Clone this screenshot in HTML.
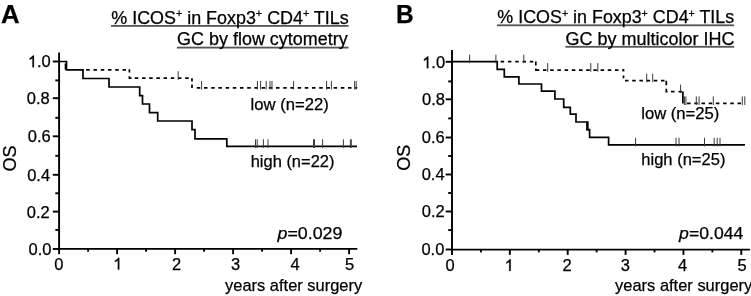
<!DOCTYPE html>
<html><head><meta charset="utf-8"><style>
html,body{margin:0;padding:0;background:#fff;}
svg{display:block;will-change:transform;}
text{font-family:"Liberation Sans", sans-serif;fill:#000;stroke:#000;stroke-width:0.25px;}
</style></head><body>
<svg width="751" height="296" viewBox="0 0 751 296">
<rect width="751" height="296" fill="#fff"/>
<path d="M59.1,52.6 V248.9 H357.3" fill="none" stroke="#000" stroke-width="1.9"/>
<line x1="52.80" y1="249.00" x2="59.1" y2="249.00" stroke="#000" stroke-width="1.9"/>
<line x1="55.30" y1="229.90" x2="59.1" y2="229.90" stroke="#000" stroke-width="1.9"/>
<line x1="52.80" y1="211.60" x2="59.1" y2="211.60" stroke="#000" stroke-width="1.9"/>
<line x1="55.30" y1="193.30" x2="59.1" y2="193.30" stroke="#000" stroke-width="1.9"/>
<line x1="52.80" y1="174.80" x2="59.1" y2="174.80" stroke="#000" stroke-width="1.9"/>
<line x1="55.30" y1="155.80" x2="59.1" y2="155.80" stroke="#000" stroke-width="1.9"/>
<line x1="52.80" y1="136.30" x2="59.1" y2="136.30" stroke="#000" stroke-width="1.9"/>
<line x1="55.30" y1="117.80" x2="59.1" y2="117.80" stroke="#000" stroke-width="1.9"/>
<line x1="52.80" y1="98.20" x2="59.1" y2="98.20" stroke="#000" stroke-width="1.9"/>
<line x1="55.30" y1="80.40" x2="59.1" y2="80.40" stroke="#000" stroke-width="1.9"/>
<line x1="52.80" y1="61.50" x2="59.1" y2="61.50" stroke="#000" stroke-width="1.9"/>
<line x1="59.10" y1="248.9" x2="59.10" y2="254.20000000000002" stroke="#000" stroke-width="1.9"/>
<line x1="88.10" y1="248.9" x2="88.10" y2="251.70000000000002" stroke="#000" stroke-width="1.9"/>
<line x1="117.10" y1="248.9" x2="117.10" y2="254.20000000000002" stroke="#000" stroke-width="1.9"/>
<line x1="146.10" y1="248.9" x2="146.10" y2="251.70000000000002" stroke="#000" stroke-width="1.9"/>
<line x1="175.10" y1="248.9" x2="175.10" y2="254.20000000000002" stroke="#000" stroke-width="1.9"/>
<line x1="204.10" y1="248.9" x2="204.10" y2="251.70000000000002" stroke="#000" stroke-width="1.9"/>
<line x1="233.10" y1="248.9" x2="233.10" y2="254.20000000000002" stroke="#000" stroke-width="1.9"/>
<line x1="262.10" y1="248.9" x2="262.10" y2="251.70000000000002" stroke="#000" stroke-width="1.9"/>
<line x1="291.10" y1="248.9" x2="291.10" y2="254.20000000000002" stroke="#000" stroke-width="1.9"/>
<line x1="320.10" y1="248.9" x2="320.10" y2="251.70000000000002" stroke="#000" stroke-width="1.9"/>
<line x1="349.10" y1="248.9" x2="349.10" y2="254.20000000000002" stroke="#000" stroke-width="1.9"/>
<g font-size="16.5">
<text x="51.49" y="254.60" text-anchor="end">0.0</text>
<text x="49.79" y="217.60" text-anchor="end">0.2</text>
<text x="50.09" y="181.40" text-anchor="end">0.4</text>
<text x="50.69" y="141.60" text-anchor="end">0.6</text>
<text x="49.79" y="103.60" text-anchor="end">0.8</text>
<path d="M33.90,67.30 L32.45,67.30 L32.45,58.06 L31.65,58.77 L29.55,59.81 L29.55,58.41 L31.38,57.09 L32.95,55.49 L33.90,55.49Z" fill="#000" stroke="#000" stroke-width="0.25"/>
<text x="50.69" y="67.30" text-anchor="end">.0</text>
<text x="54.30" y="269.6">0</text>
<path d="M119.28,269.60 L117.83,269.60 L117.83,260.36 L117.03,261.07 L114.92,262.11 L114.92,260.71 L116.75,259.39 L118.33,257.79 L119.28,257.79Z" fill="#000" stroke="#000" stroke-width="0.25"/>
<text x="171.97" y="269.6">2</text>
<text x="230.97" y="269.6">3</text>
<text x="290.40" y="269.6">4</text>
<text x="344.98" y="269.6">5</text>
</g>
<path d="M452.0,50.0 V249.6 H749.9" fill="none" stroke="#000" stroke-width="1.9"/>
<line x1="445.70" y1="249.50" x2="452.0" y2="249.50" stroke="#000" stroke-width="1.9"/>
<line x1="448.20" y1="230.10" x2="452.0" y2="230.10" stroke="#000" stroke-width="1.9"/>
<line x1="445.70" y1="211.50" x2="452.0" y2="211.50" stroke="#000" stroke-width="1.9"/>
<line x1="448.20" y1="193.00" x2="452.0" y2="193.00" stroke="#000" stroke-width="1.9"/>
<line x1="445.70" y1="174.50" x2="452.0" y2="174.50" stroke="#000" stroke-width="1.9"/>
<line x1="448.20" y1="156.00" x2="452.0" y2="156.00" stroke="#000" stroke-width="1.9"/>
<line x1="445.70" y1="137.50" x2="452.0" y2="137.50" stroke="#000" stroke-width="1.9"/>
<line x1="448.20" y1="118.40" x2="452.0" y2="118.40" stroke="#000" stroke-width="1.9"/>
<line x1="445.70" y1="99.30" x2="452.0" y2="99.30" stroke="#000" stroke-width="1.9"/>
<line x1="448.20" y1="81.40" x2="452.0" y2="81.40" stroke="#000" stroke-width="1.9"/>
<line x1="445.70" y1="61.80" x2="452.0" y2="61.80" stroke="#000" stroke-width="1.9"/>
<line x1="452.00" y1="249.6" x2="452.00" y2="254.9" stroke="#000" stroke-width="1.9"/>
<line x1="480.93" y1="249.6" x2="480.93" y2="252.4" stroke="#000" stroke-width="1.9"/>
<line x1="509.86" y1="249.6" x2="509.86" y2="254.9" stroke="#000" stroke-width="1.9"/>
<line x1="538.79" y1="249.6" x2="538.79" y2="252.4" stroke="#000" stroke-width="1.9"/>
<line x1="567.72" y1="249.6" x2="567.72" y2="254.9" stroke="#000" stroke-width="1.9"/>
<line x1="596.65" y1="249.6" x2="596.65" y2="252.4" stroke="#000" stroke-width="1.9"/>
<line x1="625.58" y1="249.6" x2="625.58" y2="254.9" stroke="#000" stroke-width="1.9"/>
<line x1="654.51" y1="249.6" x2="654.51" y2="252.4" stroke="#000" stroke-width="1.9"/>
<line x1="683.44" y1="249.6" x2="683.44" y2="254.9" stroke="#000" stroke-width="1.9"/>
<line x1="712.37" y1="249.6" x2="712.37" y2="252.4" stroke="#000" stroke-width="1.9"/>
<line x1="741.30" y1="249.6" x2="741.30" y2="254.9" stroke="#000" stroke-width="1.9"/>
<g font-size="16.5">
<text x="444.39" y="254.60" text-anchor="end">0.0</text>
<text x="444.79" y="216.65" text-anchor="end">0.2</text>
<text x="444.59" y="180.45" text-anchor="end">0.4</text>
<text x="444.69" y="142.85" text-anchor="end">0.6</text>
<text x="444.99" y="104.90" text-anchor="end">0.8</text>
<path d="M428.30,68.20 L426.85,68.20 L426.85,58.96 L426.05,59.67 L423.95,60.71 L423.95,59.31 L425.78,57.99 L427.35,56.39 L428.30,56.39Z" fill="#000" stroke="#000" stroke-width="0.25"/>
<text x="445.09" y="68.20" text-anchor="end">.0</text>
<text x="445.40" y="271.1">0</text>
<path d="M510.68,271.10 L509.23,271.10 L509.23,261.86 L508.43,262.57 L506.32,263.61 L506.32,262.21 L508.15,260.89 L509.73,259.29 L510.68,259.29Z" fill="#000" stroke="#000" stroke-width="0.25"/>
<text x="562.38" y="271.1">2</text>
<text x="620.67" y="271.1">3</text>
<text x="678.00" y="271.1">4</text>
<text x="737.58" y="271.1">5</text>
</g>
<path d="M59,61.5 H66.5 V69.8 H83 V78.5 H109 V87 H139.7 V95.6 H142.5 V104 H149.5 V112.6 H157.7 V121 H192 V129.6 H195 V138.8 H226.8 V146.4 H357" fill="none" stroke="#000" stroke-width="1.7"/>
<path d="M65.5,63.5 V69.8 M86.20,69.9 H89.70 M93.46,69.9 H96.96 M100.72,69.9 H104.22 M107.98,69.9 H111.48 M115.24,69.9 H118.74 M122.50,69.9 H126.00 M129.4,69.3 V72.6 M129.4,76.3 V78.2 M128.6,78.2 H131.5 M134.80,78.2 H138.30 M141.99,78.2 H145.49 M149.18,78.2 H152.68 M156.37,78.2 H159.87 M163.56,78.2 H167.06 M170.75,78.2 H174.25 M177.94,78.2 H181.44 M185.13,78.2 H188.63 M192.0,78.2 V81.4 M192.0,84.6 V87.9 M196.80,87.9 H200.30 M204.00,87.9 H207.50 M211.20,87.9 H214.70 M218.40,87.9 H221.90 M225.60,87.9 H229.10 M232.80,87.9 H236.30 M240.00,87.9 H243.50 M247.20,87.9 H250.70 M254.40,87.9 H257.90 M261.60,87.9 H265.10 M268.80,87.9 H272.30 M276.00,87.9 H279.50 M283.20,87.9 H286.70 M290.40,87.9 H293.90 M297.60,87.9 H301.10 M304.80,87.9 H308.30 M312.00,87.9 H315.50 M319.20,87.9 H322.70 M326.40,87.9 H329.90 M333.60,87.9 H337.10 M340.80,87.9 H344.30 M348.00,87.9 H351.50 M355.20,87.9 H357.20" fill="none" stroke="#000" stroke-width="1.7"/>
<line x1="178.2" y1="71.2" x2="178.2" y2="79.8" stroke="#3a3a3a" stroke-width="1.0"/>
<line x1="201.6" y1="80.9" x2="201.6" y2="89.5" stroke="#3a3a3a" stroke-width="1.0"/>
<line x1="257.4" y1="80.9" x2="257.4" y2="89.5" stroke="#3a3a3a" stroke-width="1.0"/>
<line x1="260.6" y1="80.9" x2="260.6" y2="89.5" stroke="#3a3a3a" stroke-width="1.0"/>
<line x1="266.2" y1="80.9" x2="266.2" y2="89.5" stroke="#3a3a3a" stroke-width="1.0"/>
<line x1="270" y1="80.9" x2="270" y2="89.5" stroke="#3a3a3a" stroke-width="1.0"/>
<line x1="272" y1="80.9" x2="272" y2="89.5" stroke="#3a3a3a" stroke-width="1.0"/>
<line x1="293.6" y1="80.9" x2="293.6" y2="89.5" stroke="#3a3a3a" stroke-width="1.0"/>
<line x1="326.6" y1="80.9" x2="326.6" y2="89.5" stroke="#3a3a3a" stroke-width="1.0"/>
<line x1="331.4" y1="80.9" x2="331.4" y2="89.5" stroke="#3a3a3a" stroke-width="1.0"/>
<line x1="354.6" y1="80.9" x2="354.6" y2="89.5" stroke="#3a3a3a" stroke-width="1.0"/>
<line x1="356.2" y1="80.9" x2="356.2" y2="89.5" stroke="#3a3a3a" stroke-width="1.0"/>
<line x1="255.5" y1="139.3" x2="255.5" y2="147.9" stroke="#3a3a3a" stroke-width="1.0"/>
<line x1="257.2" y1="139.3" x2="257.2" y2="147.9" stroke="#3a3a3a" stroke-width="1.0"/>
<line x1="263.4" y1="139.3" x2="263.4" y2="147.9" stroke="#3a3a3a" stroke-width="1.0"/>
<line x1="268" y1="139.3" x2="268" y2="147.9" stroke="#3a3a3a" stroke-width="1.0"/>
<line x1="313.5" y1="139.3" x2="313.5" y2="147.9" stroke="#3a3a3a" stroke-width="1.0"/>
<line x1="314.5" y1="139.3" x2="314.5" y2="147.9" stroke="#3a3a3a" stroke-width="1.0"/>
<line x1="322.6" y1="139.3" x2="322.6" y2="147.9" stroke="#3a3a3a" stroke-width="1.0"/>
<line x1="343.4" y1="139.3" x2="343.4" y2="147.9" stroke="#3a3a3a" stroke-width="1.0"/>
<line x1="350.4" y1="139.3" x2="350.4" y2="147.9" stroke="#3a3a3a" stroke-width="1.0"/>
<line x1="351.3" y1="139.3" x2="351.3" y2="147.9" stroke="#3a3a3a" stroke-width="1.0"/>
<path d="M452,61.6 H497.2 V69.4 H504.3 V76.8 H518.9 V84 H541.5 V91.2 H554.9 V99 H563.7 V107.3 H570.3 V114.2 H576 V122 H587.3 V129.6 H589.6 V137.4 H608.6 V144.8 H745" fill="none" stroke="#000" stroke-width="1.7"/>
<path d="M500.60,61.6 H504.10 M507.90,61.6 H511.40 M515.20,61.6 H518.70 M522.50,61.6 H526.00 M529.80,61.6 H533.30 M535.8,61.6 V65.6 M535.8,68.5 V70.1 M535,70.1 H539.3 M543.00,70.1 H546.50 M550.20,70.1 H553.70 M557.40,70.1 H560.90 M564.60,70.1 H568.10 M571.80,70.1 H575.30 M579.00,70.1 H582.50 M586.20,70.1 H589.70 M593.40,70.1 H596.90 M600.60,70.1 H604.10 M607.80,70.1 H611.30 M615.00,70.1 H618.50 M622.20,70.1 H623.50 M623.5,69.1 V71.6 M623.5,75.4 V78.2 M625.00,80.65 H628.50 M632.20,80.65 H635.70 M639.40,80.65 H642.90 M646.60,80.65 H650.10 M653.80,80.65 H657.30 M661.00,80.65 H664.50 M666.3,80.65 V85.3 M666.3,88.8 V91.6 M665.5,91.6 H667.5 M671.00,91.6 H674.50 M678.50,91.6 H682.00 M682.9,91.6 V103.4 M687.10,103.4 H690.60 M694.30,103.4 H697.80 M701.50,103.4 H705.00 M708.70,103.4 H712.20 M715.90,103.4 H719.40 M723.10,103.4 H726.60 M730.30,103.4 H733.80 M737.50,103.4 H741.00" fill="none" stroke="#000" stroke-width="1.7"/>
<line x1="469.6" y1="54.6" x2="469.6" y2="63.2" stroke="#3a3a3a" stroke-width="1.0"/>
<line x1="495.9" y1="54.6" x2="495.9" y2="63.2" stroke="#3a3a3a" stroke-width="1.0"/>
<line x1="523.8" y1="54.6" x2="523.8" y2="63.2" stroke="#3a3a3a" stroke-width="1.0"/>
<path d="M587.4,121.5 V130.5" stroke="#000" stroke-width="2.4"/>
<line x1="547.7" y1="63.099999999999994" x2="547.7" y2="71.69999999999999" stroke="#3a3a3a" stroke-width="1.0"/>
<line x1="590.8" y1="63.099999999999994" x2="590.8" y2="71.69999999999999" stroke="#3a3a3a" stroke-width="1.0"/>
<line x1="597.8" y1="63.099999999999994" x2="597.8" y2="71.69999999999999" stroke="#3a3a3a" stroke-width="1.0"/>
<line x1="646.7" y1="73.65" x2="646.7" y2="82.25" stroke="#3a3a3a" stroke-width="1.0"/>
<line x1="652.7" y1="73.65" x2="652.7" y2="82.25" stroke="#3a3a3a" stroke-width="1.0"/>
<line x1="680.6" y1="84.6" x2="680.6" y2="93.19999999999999" stroke="#3a3a3a" stroke-width="1.0"/>
<line x1="684.4" y1="96.4" x2="684.4" y2="105.0" stroke="#3a3a3a" stroke-width="1.0"/>
<line x1="685.9" y1="96.4" x2="685.9" y2="105.0" stroke="#3a3a3a" stroke-width="1.0"/>
<line x1="696.3" y1="96.4" x2="696.3" y2="105.0" stroke="#3a3a3a" stroke-width="1.0"/>
<line x1="699.1" y1="96.4" x2="699.1" y2="105.0" stroke="#3a3a3a" stroke-width="1.0"/>
<line x1="713.3" y1="96.4" x2="713.3" y2="105.0" stroke="#3a3a3a" stroke-width="1.0"/>
<line x1="742.3" y1="96.4" x2="742.3" y2="105.0" stroke="#3a3a3a" stroke-width="1.0"/>
<line x1="744.8" y1="96.4" x2="744.8" y2="105.0" stroke="#3a3a3a" stroke-width="1.0"/>
<line x1="635.6" y1="137.8" x2="635.6" y2="146.4" stroke="#3a3a3a" stroke-width="1.0"/>
<line x1="676" y1="137.8" x2="676" y2="146.4" stroke="#3a3a3a" stroke-width="1.0"/>
<line x1="679" y1="137.8" x2="679" y2="146.4" stroke="#3a3a3a" stroke-width="1.0"/>
<line x1="704.5" y1="137.8" x2="704.5" y2="146.4" stroke="#3a3a3a" stroke-width="1.0"/>
<line x1="714.2" y1="137.8" x2="714.2" y2="146.4" stroke="#3a3a3a" stroke-width="1.0"/>
<line x1="717.2" y1="137.8" x2="717.2" y2="146.4" stroke="#3a3a3a" stroke-width="1.0"/>
<line x1="720" y1="137.8" x2="720" y2="146.4" stroke="#3a3a3a" stroke-width="1.0"/>
<rect x="111.0" y="25.00" width="237.60" height="1.8" fill="#555"/>
<rect x="176.9" y="46.70" width="171.70" height="1.8" fill="#555"/>
<rect x="497.0" y="24.40" width="237.20" height="1.8" fill="#555"/>
<rect x="565.5" y="45.90" width="168.70" height="1.8" fill="#555"/>
<text x="1.03" y="22.5" font-size="25" font-weight="bold" textLength="18.66" lengthAdjust="spacingAndGlyphs">A</text>
<text x="395.89" y="22.5" font-size="25" font-weight="bold" textLength="17.65" lengthAdjust="spacingAndGlyphs">B</text>
<text x="111.29" y="23.6" font-size="17.5" textLength="237.42" lengthAdjust="spacingAndGlyphs">% ICOS<tspan font-size="10.5" dy="-6.3">+</tspan><tspan dy="6.3"> in Foxp3</tspan><tspan font-size="10.5" dy="-6.3">+</tspan><tspan dy="6.3"> CD4</tspan><tspan font-size="10.5" dy="-6.3">+</tspan><tspan dy="6.3"> TILs</tspan></text>
<text x="177.13" y="45.0" font-size="17.5" textLength="170.52" lengthAdjust="spacingAndGlyphs">GC by flow cytometry</text>
<text x="497.39" y="23.3" font-size="17.5" textLength="236.82" lengthAdjust="spacingAndGlyphs">% ICOS<tspan font-size="10.5" dy="-6.3">+</tspan><tspan dy="6.3"> in Foxp3</tspan><tspan font-size="10.5" dy="-6.3">+</tspan><tspan dy="6.3"> CD4</tspan><tspan font-size="10.5" dy="-6.3">+</tspan><tspan dy="6.3"> TILs</tspan></text>
<text x="565.63" y="44.6" font-size="17.5" textLength="168.84" lengthAdjust="spacingAndGlyphs">GC by multicolor IHC</text>
<text x="250.59" y="110.25" font-size="16.5" textLength="78.12" lengthAdjust="spacingAndGlyphs">low (n=22)</text>
<text x="250.70" y="167.3" font-size="16.5" textLength="83.73" lengthAdjust="spacingAndGlyphs">high (n=22)</text>
<text x="641.19" y="118.6" font-size="16.5" textLength="78.12" lengthAdjust="spacingAndGlyphs">low (n=25)</text>
<text x="641.30" y="164.65" font-size="16.5" textLength="84.14" lengthAdjust="spacingAndGlyphs">high (n=25)</text>
<text x="277.52" y="239.2" font-size="17" textLength="64.91" lengthAdjust="spacingAndGlyphs"><tspan font-style="italic">p</tspan>=0.029</text>
<text x="679.12" y="239.2" font-size="17" textLength="64.25" lengthAdjust="spacingAndGlyphs"><tspan font-style="italic">p</tspan>=0.044</text>
<text x="225.10" y="290.8" font-size="17" textLength="137.08" lengthAdjust="spacingAndGlyphs">years after surgery</text>
<text x="615.10" y="291.2" font-size="17" textLength="137.18" lengthAdjust="spacingAndGlyphs">years after surgery</text>
<text transform="translate(15.6,158.5) rotate(-90)" text-anchor="middle" font-size="18">OS</text>
<text transform="translate(409.8,157.8) rotate(-90)" text-anchor="middle" font-size="18">OS</text>
</svg>
</body></html>
